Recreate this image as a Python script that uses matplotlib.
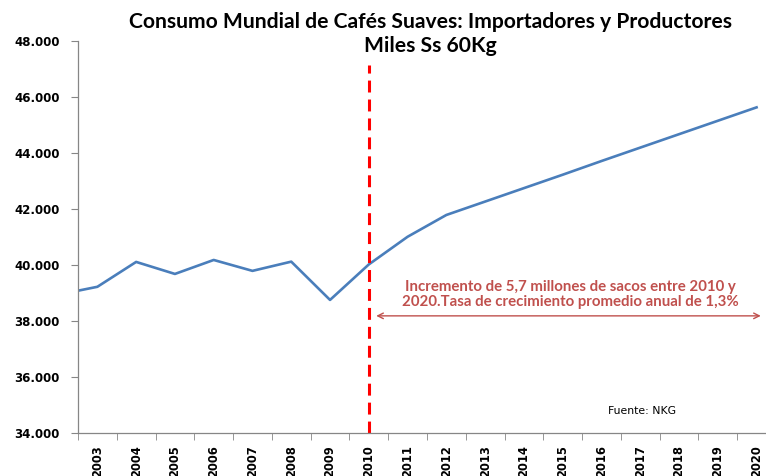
import numpy as np
import matplotlib.pyplot as plt
from matplotlib.ticker import FuncFormatter, FixedLocator

# data (miles de sacos de 60 Kg) -------------
years = [2002, 2003, 2004, 2005, 2006, 2007, 2008, 2009, 2010, 2011,
         2012, 2013, 2014, 2015, 2016, 2017, 2018, 2019, 2020]
consumo = [38940, 39220, 40110, 39680, 40180, 39790, 40120, 38750, 40020, 41010,
           41790, 42270, 42750, 43230, 43720, 44200, 44680, 45160, 45640]
yticks = [34000, 36000, 38000, 40000, 42000, 44000, 46000, 48000]
year_labels = [str(y) for y in years[1:]]

title = "Consumo Mundial de Cafés Suaves: Importadores y Productores\nMiles Ss 60Kg"
nota = "Incremento de 5,7 millones de sacos entre 2010 y\n2020.Tasa de crecimiento promedio anual de 1,3%"
fuente = "Fuente: NKG"
# -------------------------------------------

lineColor = '#4A7EBB'
noteColor = '#C0504D'
axisColor = '#868686'

fig = plt.figure(figsize=(7.66, 4.76), dpi=100)
ax = fig.add_axes([0.1018, 0.091, 0.9112, 0.822])

ax.plot(years, consumo, color=lineColor, lw=1.9, solid_joinstyle='round')
ax.set_xlim(2002.5, 2020.5)
ax.set_ylim(34000, 48000)

# 2010 split line
ax.plot([2010, 2010], [34000, 47150], color='#FF0000', lw=2.2,
        linestyle=(0, (3.9, 2.3)))

# axes look
for s in ['top', 'right']:
    ax.spines[s].set_visible(False)
for s in ['left', 'bottom']:
    ax.spines[s].set_color(axisColor)
    ax.spines[s].set_linewidth(0.9)

ax.set_yticks(yticks)
ax.yaxis.set_major_formatter(FuncFormatter(lambda v, p: f"{int(v):,}".replace(',', '.')))
ax.tick_params(axis='y', direction='out', length=5, color=axisColor, pad=8,
               labelsize=8.5)
for lab in ax.get_yticklabels():
    lab.set_fontweight('bold')

ax.set_xticks(years[1:])
ax.set_xticklabels(year_labels, rotation=90, fontsize=8.3, fontweight='bold')
ax.tick_params(axis='x', which='major', length=0, pad=9)
ax.xaxis.set_minor_locator(FixedLocator(np.arange(2002.5, 2021, 1.0)))
ax.tick_params(axis='x', which='minor', direction='out', length=5, color=axisColor)

# title
fig.text(0.5614, 0.975, title, ha='center', va='top', fontsize=15.2,
         fontweight='bold', family='Lato', linespacing=1.28)

# annotation
ax.text(2015.2, 38950, nota, ha='center', va='center', fontsize=10.8,
        fontweight='bold', family='Lato', color=noteColor, linespacing=1.15)
ax.annotate('', xy=(2020.18, 38180), xytext=(2010.12, 38180),
            arrowprops=dict(arrowstyle='<->', color=noteColor, lw=1.0,
                            mutation_scale=10), annotation_clip=False)

ax.text(2017.05, 34780, fuente, ha='center', va='center', fontsize=7.8,
        family='DejaVu Sans')

fig.savefig('out.png', dpi=100)
